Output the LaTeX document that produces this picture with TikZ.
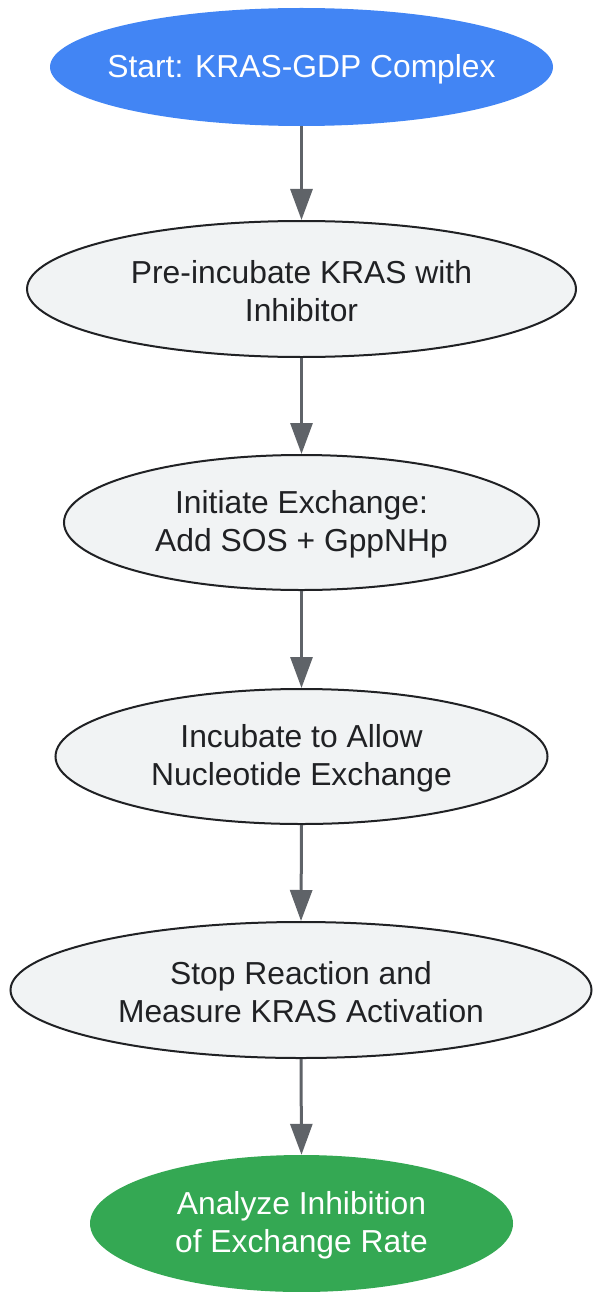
\documentclass[tikz,border=0pt]{standalone}
\usepackage{fontspec}
\setmainfont{Liberation Sans}
\usetikzlibrary{arrows.meta,shapes.geometric}
\definecolor{gblue}{HTML}{4285F4}
\definecolor{ggreen}{HTML}{34A853}
\definecolor{gfill}{HTML}{F1F3F4}
\definecolor{gstroke}{HTML}{202124}
\definecolor{garrow}{HTML}{5F6368}
\tikzset{
  txt/.style={align=center, inner sep=0pt, yshift=-2pt, font=\fontsize{31.8}{38}\selectfont},
  stepnode/.style={ellipse, inner sep=0pt},
  plain/.style={stepnode, draw=gstroke, line width=2pt, fill=gfill},
  plaintext/.style={txt, text=gstroke},
  whitetext/.style={txt, text=white},
  startnode/.style={stepnode, fill=gblue},
  endnode/.style={stepnode, fill=ggreen},
  arr/.style={draw=garrow, line width=3pt, -{Triangle[width=22pt,length=31pt]}, fill=garrow}
}
\begin{document}
\begin{tikzpicture}[x=1pt,y=-1pt]
\useasboundingbox (0,0) rectangle (592,1292);
\node[startnode, minimum width=503pt, minimum height=118pt,
  label={[whitetext]center:Start: KRAS-GDP Complex}] (n1) at (301.5,67) {};
\node[plain, minimum width=549pt, minimum height=136pt,
  label={[plaintext]center:{Pre-incubate KRAS with\\Inhibitor}}] (n2) at (301.5,289) {};
\node[plain, minimum width=475pt, minimum height=135pt,
  label={[plaintext]center:{Initiate Exchange:\\Add SOS + GppNHp}}] (n3) at (301.5,522.5) {};
\node[plain, minimum width=492pt, minimum height=135pt,
  label={[plaintext]center:{Incubate to Allow\\Nucleotide Exchange}}] (n4) at (301.5,756.5) {};
\node[plain, minimum width=581pt, minimum height=136pt,
  label={[plaintext]center:{Stop Reaction and\\Measure KRAS Activation}}] (n5) at (301,990) {};
\node[endnode, minimum width=423pt, minimum height=137pt,
  label={[whitetext]center:{Analyze Inhibition\\of Exchange Rate}}] (n6) at (301.5,1223.5) {};
\draw[arr] (n1.south) -- (n2.north);
\draw[arr] (n2.south) -- (n3.north);
\draw[arr] (n3.south) -- (n4.north);
\draw[arr] (n4.south) -- (n5.north);
\draw[arr] (n5.south) -- (n6.north);
\end{tikzpicture}
\end{document}
